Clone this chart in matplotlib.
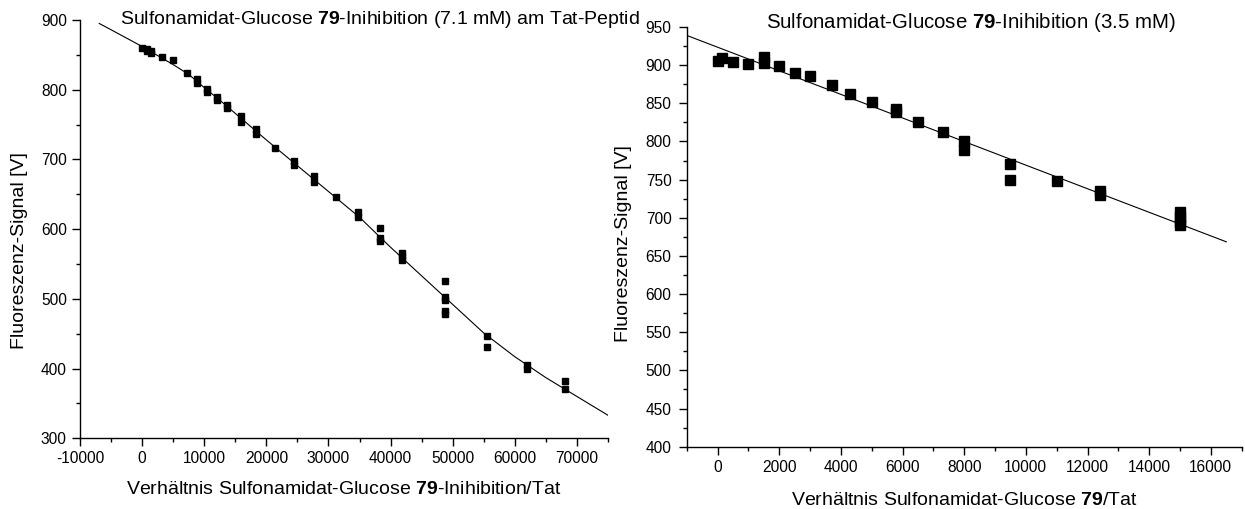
import numpy as np
import matplotlib
matplotlib.use("Agg")
import matplotlib.pyplot as plt
from matplotlib.ticker import MultipleLocator

plt.rcParams['font.family'] = ['Liberation Sans', 'DejaVu Sans']
plt.rcParams['mathtext.fontset'] = 'custom'
plt.rcParams['mathtext.rm'] = 'Liberation Sans'
plt.rcParams['mathtext.bf'] = 'Liberation Sans:bold'
plt.rcParams['axes.unicode_minus'] = False

# left panel: 7.1 mM, measured points
ratio_71 = [0, 800, 800, 1500, 1500, 3200, 4900, 7200, 8900, 8900, 10400, 10400,
            12100, 12100, 13600, 13600, 15900, 15900, 18400, 18400, 21400, 24500,
            24500, 27600, 27600, 31200, 34800, 34800, 38300, 38300, 38300, 41900,
            41900, 41900, 48800, 48800, 48800, 48800, 48800, 55500, 55500, 62000,
            62000, 68100, 68100]
signal_71 = [860, 858, 855, 855, 853, 847, 843, 824, 816, 810, 801, 797,
             789, 785, 778, 774, 762, 754, 743, 736, 717, 698,
             692, 676, 667, 646, 624, 617, 601, 587, 583, 566,
             561, 556, 526, 503, 498, 483, 479, 447, 431, 405,
             400, 382, 370]
# left panel: fitted curve
fit_x_71 = [-6900, -5000, -2500, 0, 2500, 5000, 7500, 10000, 12500, 15000, 20000,
            25000, 30000, 35000, 40000, 45000, 50000, 55000, 60000, 65000, 70000, 75000]
fit_y_71 = [895, 886, 874, 862, 849, 836, 822, 803, 785, 766, 728,
            691, 654, 617, 574, 533, 492, 451, 417, 387, 360, 333]

# right panel: 3.5 mM
ratio_35 = [0, 150, 500, 1000, 1500, 1500, 2000, 2500, 3000, 3700, 4300, 5000,
            5800, 5800, 6500, 7300, 8000, 8000, 9500, 9500, 11000, 12400, 12400,
            15000, 15000, 15000, 15000]
signal_35 = [905, 909, 904, 902, 911, 903, 899, 890, 886, 874, 862, 852,
             842, 838, 825, 812, 800, 789, 770, 749, 748, 735, 730,
             707, 701, 695, 690]
fit_x_35 = [-1000, 16500]
fit_y_35 = [939, 668.5]

W, H = 1245, 509


def style_axes(ax, xmaj, xmin, ymaj, ymin, ypad):
    for s in ['top', 'right']:
        ax.spines[s].set_visible(False)
    for s in ['left', 'bottom']:
        ax.spines[s].set_linewidth(1.0)
    ax.xaxis.set_major_locator(MultipleLocator(xmaj))
    ax.xaxis.set_minor_locator(MultipleLocator(xmin))
    ax.yaxis.set_major_locator(MultipleLocator(ymaj))
    ax.yaxis.set_minor_locator(MultipleLocator(ymin))
    ax.tick_params(which='major', direction='out', length=5.9, width=1.0,
                   labelsize=11.2)
    ax.tick_params(which='minor', direction='out', length=3.2, width=1.0)
    ax.tick_params(axis='x', which='major', pad=3.6)
    ax.tick_params(axis='y', which='major', pad=ypad)


fig = plt.figure(figsize=(W / 100, H / 100), dpi=100)

# left chart
ax1 = fig.add_axes([80 / W, 1 - 438.3 / H, 528 / W, 418.3 / H])
ax1.plot(fit_x_71, fit_y_71, color='black', lw=0.8)
ax1.plot(ratio_71, signal_71, 's', color='black', ms=3.8, mec='black')
ax1.set_xlim(-10000, 75000)
ax1.set_ylim(300, 900)
style_axes(ax1, 10000, 5000, 100, 50, 3.6)
ax1.set_xlabel(r'Verhältnis Sulfonamidat-Glucose $\mathbf{79}$-Inihibition/Tat', fontsize=14)
ax1.set_ylabel('Fluoreszenz-Signal [V]', fontsize=14)
ax1.xaxis.set_label_coords(0.5, -0.103)
ax1.yaxis.set_label_coords(-0.098, 0.45)
fig.text(120 / W, 1 - 20 / H,
         r'Sulfonamidat-Glucose $\mathbf{79}$-Inihibition (7.1 mM) am Tat-Peptid',
         fontsize=14, ha='left', va='center')

# right chart
ax2 = fig.add_axes([686.7 / W, 1 - 446.7 / H, 555 / W, 419.7 / H])
ax2.plot(fit_x_35, fit_y_35, color='black', lw=0.8)
ax2.plot(ratio_35, signal_35, 's', color='black', ms=6.5, mec='black')
ax2.set_xlim(-1000, 17000)
ax2.set_ylim(400, 950)
style_axes(ax2, 2000, 1000, 50, 25, 5.0)
ax2.set_xlabel(r'Verhältnis Sulfonamidat-Glucose $\mathbf{79}$/Tat', fontsize=14)
ax2.set_ylabel('Fluoreszenz-Signal [V]', fontsize=14)
ax2.xaxis.set_label_coords(0.5, -0.108)
ax2.yaxis.set_label_coords(-0.0985, 0.485)
fig.text(766 / W, 1 - 23 / H,
         r'Sulfonamidat-Glucose $\mathbf{79}$-Inihibition (3.5 mM)',
         fontsize=14.7, ha='left', va='center')

fig.savefig('out.png', dpi=100)
